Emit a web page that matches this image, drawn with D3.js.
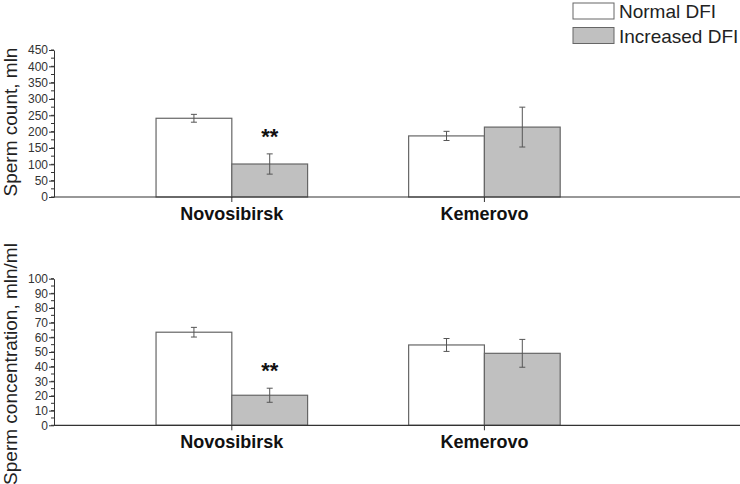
<!DOCTYPE html>
<html>
<head>
<meta charset="utf-8">
<script src="https://cdn.jsdelivr.net/npm/d3@7"></script>
<style>
body { margin: 0; background: #fff; }
svg { font-family: Arial, "Liberation Sans", sans-serif; }
</style>
</head>
<body>
<svg width="740" height="484"></svg>
<script>
var cities = ["Novosibirsk", "Kemerovo"];
var groups = ["Normal DFI", "Increased DFI"];
var colors = ["#ffffff", "#c0c0c0"];

// sperm count, mln
var countMean = [[241, 101], [187, 214]];
var countErr = [[12, 31], [14, 61]];
var countTicks = [0, 50, 100, 150, 200, 250, 300, 350, 400, 450];

// sperm concentration, mln/ml
var concMean = [[63.5, 20.5], [54.8, 49.1]];
var concErr = [[3.3, 4.8], [4.4, 9.5]];
var concTicks = [0, 10, 20, 30, 40, 50, 60, 70, 80, 90, 100];

var signif = ["**", ""];

var svg = d3.select("svg");

var x = d3.scaleLinear().domain([0.296, 3]).range([54, 737]);
var barW = 0.3;

function panel(mean, err, ticks, minorStep, top, bottom, title, titleY) {
  var g = svg.append("g");
  var y = d3.scaleLinear().domain([0, ticks[ticks.length - 1]]).range([bottom, top]);

  // minor ticks
  var minor = d3.range(0, ticks[ticks.length - 1] + 0.001, minorStep);
  g.selectAll(".minor").data(minor).enter().append("line")
    .attr("x1", 51).attr("x2", 54)
    .attr("y1", function(d) { return y(d); }).attr("y2", function(d) { return y(d); })
    .attr("stroke", "#333");

  var ax = g.append("g").attr("transform", "translate(54,0)")
    .call(d3.axisLeft(y).tickValues(ticks).tickSize(5).tickSizeOuter(0));
  ax.select(".domain").attr("stroke", "#333");
  ax.selectAll(".tick line").attr("stroke", "#333");
  ax.selectAll(".tick text").attr("font-size", 12).attr("fill", "#333").attr("x", -6);

  // bars
  cities.forEach(function(c, i) {
    var cx = i + 1;
    groups.forEach(function(grp, j) {
      var x0 = cx - barW + j * barW;
      g.append("rect")
        .attr("x", x(x0)).attr("width", x(x0 + barW) - x(x0))
        .attr("y", y(mean[i][j])).attr("height", y(0) - y(mean[i][j]))
        .attr("fill", colors[j]).attr("stroke", "#666").attr("stroke-width", 1.2);
      var ex = x(x0 + barW / 2);
      var hi = y(mean[i][j] + err[i][j]), lo = y(mean[i][j] - err[i][j]);
      g.append("line").attr("x1", ex).attr("x2", ex).attr("y1", hi).attr("y2", lo)
        .attr("stroke", "#555");
      [hi, lo].forEach(function(yy) {
        g.append("line").attr("x1", ex - 3).attr("x2", ex + 3).attr("y1", yy).attr("y2", yy)
          .attr("stroke", "#555");
      });
    });
    if (signif[i]) {
      var sx = x(cx + barW / 2);
      g.append("text").attr("x", sx).attr("y", y(mean[i][1] + err[i][1]) - 10)
        .attr("text-anchor", "middle").attr("font-size", 22).attr("font-weight", "bold")
        .attr("fill", "#111").text(signif[i]);
    }
    // category tick and label
    g.append("line").attr("x1", x(cx)).attr("x2", x(cx)).attr("y1", bottom).attr("y2", bottom + 5)
      .attr("stroke", "#333");
    g.append("text").attr("x", x(cx)).attr("y", bottom + 23)
      .attr("text-anchor", "middle").attr("font-size", 18).attr("font-weight", "bold")
      .attr("fill", "#111").text(c);
  });

  // x axis line
  g.append("line").attr("x1", 54).attr("x2", 740).attr("y1", bottom).attr("y2", bottom)
    .attr("stroke", "#333").attr("stroke-width", 1.2);

  g.append("text").attr("transform", "translate(17," + titleY + ") rotate(-90)")
    .attr("text-anchor", "middle").attr("font-size", 19).attr("fill", "#222").text(title);
}

panel(countMean, countErr, countTicks, 25, 50, 197, "Sperm count, mln", 122);
panel(concMean, concErr, concTicks, 5, 278.7, 425.3, "Sperm concentration, mln/ml", 364);

// legend
var leg = svg.append("g");
groups.forEach(function(grp, j) {
  leg.append("rect").attr("x", 573).attr("y", 3 + j * 24.5).attr("width", 41).attr("height", 16)
    .attr("fill", colors[j]).attr("stroke", "#666");
  leg.append("text").attr("x", 619).attr("y", 18 + j * 24.5).attr("font-size", 19)
    .attr("fill", "#222").text(grp);
});
</script>
</body>
</html>
